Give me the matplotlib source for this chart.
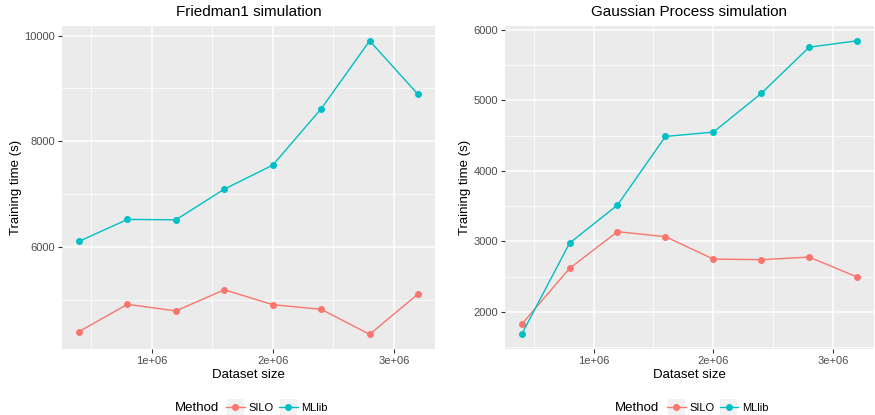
import matplotlib.pyplot as plt
from matplotlib.ticker import MultipleLocator, FuncFormatter
from matplotlib.patches import Rectangle

plt.rcParams['font.family'] = ['Liberation Sans', 'DejaVu Sans']

sizes = [0.4e6, 0.8e6, 1.2e6, 1.6e6, 2.0e6, 2.4e6, 2.8e6, 3.2e6]
methods = ['SILO', 'MLlib']
colors = ['#F8766D', '#00BFC4']

# Friedman1 simulation
fried_silo = [4410, 4925, 4800, 5200, 4918, 4830, 4358, 5120]
fried_mllib = [6113, 6528, 6520, 7100, 7553, 8617, 9900, 8887]

# Gaussian Process simulation
gp_silo = [1826, 2619, 3139, 3068, 2751, 2742, 2779, 2496]
gp_mllib = [1684, 2977, 3516, 4489, 4550, 5098, 5754, 5844]

titles = ['Friedman1 simulation', 'Gaussian Process simulation']
panels = [[fried_silo, fried_mllib], [gp_silo, gp_mllib]]
ymajor = [2000, 1000]

fig = plt.figure(figsize=(8.75, 4.15), dpi=100)
boxes = [[0.0709, 0.159, 0.4263, 0.778], [0.577, 0.159, 0.4217, 0.778]]

def sci(v, pos):
    if v == 0:
        return '0e+00'
    return '%de+06' % round(v / 1e6)

legends = []
for k in range(2):
    ax = fig.add_axes(boxes[k])
    ax.set_facecolor('#EBEBEB')
    for s in ax.spines.values():
        s.set_visible(False)
    for m in range(2):
        ax.plot(sizes, panels[k][m], color=colors[m], lw=1.0, marker='o',
                markersize=4, label=methods[m], zorder=3)
    # ggplot-style 5% expansion
    lo = min(min(p) for p in panels[k])
    hi = max(max(p) for p in panels[k])
    pad = (hi - lo) * 0.05
    ax.set_ylim(lo - pad, hi + pad)
    xpad = (sizes[-1] - sizes[0]) * 0.05
    ax.set_xlim(sizes[0] - xpad, sizes[-1] + xpad)
    ax.xaxis.set_major_locator(MultipleLocator(1e6))
    ax.xaxis.set_minor_locator(MultipleLocator(0.5e6))
    ax.yaxis.set_major_locator(MultipleLocator(ymajor[k]))
    ax.yaxis.set_minor_locator(MultipleLocator(ymajor[k] / 2))
    ax.xaxis.set_major_formatter(FuncFormatter(sci))
    ax.grid(which='major', color='white', lw=1.1, zorder=0)
    ax.grid(which='minor', color='white', lw=0.55, zorder=0)
    ax.set_axisbelow(True)
    ax.tick_params(which='major', length=3, width=0.8, color='#333333',
                   labelsize=8, labelcolor='#4D4D4D', pad=2)
    ax.tick_params(which='minor', length=0)
    ax.set_title(titles[k], fontsize=11, pad=7)
    ax.set_xlabel('Dataset size', fontsize=9.5, labelpad=2)
    ax.set_ylabel('Training time (s)', fontsize=9.5, labelpad=2)

    cx = boxes[k][0] + boxes[k][2] / 2
    x0 = cx - 0.026
    fig.text(x0 - 0.008, 0.017, 'Method', fontsize=9.5, ha='right', va='center')
    leg = fig.legend(ax.get_lines(), methods, loc='center left',
                     bbox_to_anchor=(x0, 0.017), ncol=2, frameon=False,
                     fontsize=8, handlelength=1.7, handletextpad=0.35,
                     columnspacing=0.45, borderpad=0, borderaxespad=0)
    legends.append(leg)

# grey key backgrounds like ggplot
fig.canvas.draw()
r = fig.canvas.get_renderer()
W, H = fig.get_size_inches() * fig.dpi
for leg in legends:
    for h in leg.legend_handles:
        bb = h.get_window_extent(r)
        cxp = (bb.x0 + bb.x1) / 2
        cyp = (bb.y0 + bb.y1) / 2
        w = 17
        fig.patches.append(Rectangle(((cxp - w / 2) / W, (cyp - w / 2) / H), w / W, w / H,
                                     transform=fig.transFigure, facecolor='#F2F2F2',
                                     edgecolor='none', zorder=0))

fig.savefig('out.png', dpi=100)
